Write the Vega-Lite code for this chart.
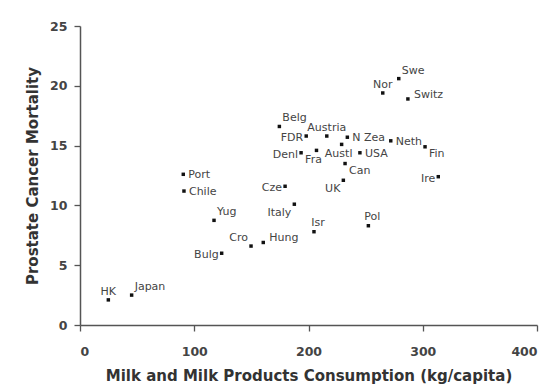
{
  "$schema": "https://vega.github.io/schema/vega-lite/v6.json",
  "autosize": "none",
  "width": 457,
  "height": 299,
  "padding": {"left": 80, "top": 26, "right": 12, "bottom": 65},
  "background": "white",
  "config": {
    "view": {"stroke": null},
    "font": "DejaVu Sans",
    "axis": {
      "grid": false,
      "domainColor": "#555",
      "domainWidth": 1.5,
      "tickColor": "#555",
      "tickWidth": 1.3,
      "tickSize": 6,
      "labelFont": "DejaVu Sans",
      "labelFontSize": 12.5,
      "labelFontWeight": "bold",
      "labelColor": "#444",
      "titleFont": "DejaVu Sans",
      "titleFontSize": 15,
      "titleFontWeight": "bold",
      "titleColor": "#333"
    },
    "text": {"font": "DejaVu Sans", "fontSize": 11, "color": "#444", "baseline": "middle"}
  },
  "data": {
    "values": [
      {"country": "Swe", "milk": 279, "mortality": 20.6},
      {"country": "Nor", "milk": 265, "mortality": 19.4},
      {"country": "Switz", "milk": 287, "mortality": 18.9},
      {"country": "Belg", "milk": 174.5, "mortality": 16.6},
      {"country": "FDR", "milk": 198, "mortality": 15.8},
      {"country": "Austria", "milk": 216, "mortality": 15.8},
      {"country": "N Zea", "milk": 234, "mortality": 15.7},
      {"country": "Austl", "milk": 229, "mortality": 15.1},
      {"country": "Neth", "milk": 272, "mortality": 15.4},
      {"country": "Fin", "milk": 302, "mortality": 14.9},
      {"country": "Denl", "milk": 193.5, "mortality": 14.4},
      {"country": "Fra", "milk": 207, "mortality": 14.6},
      {"country": "USA", "milk": 245, "mortality": 14.4},
      {"country": "Can", "milk": 232, "mortality": 13.5},
      {"country": "UK", "milk": 230.5, "mortality": 12.1},
      {"country": "Ire", "milk": 313.6, "mortality": 12.4},
      {"country": "Cze", "milk": 179.5, "mortality": 11.6},
      {"country": "Port", "milk": 90.4, "mortality": 12.6},
      {"country": "Chile", "milk": 91, "mortality": 11.2},
      {"country": "Italy", "milk": 187.6, "mortality": 10.1},
      {"country": "Yug", "milk": 117.3, "mortality": 8.75},
      {"country": "Isr", "milk": 204.8, "mortality": 7.8},
      {"country": "Pol", "milk": 252.4, "mortality": 8.3},
      {"country": "Hung", "milk": 160.4, "mortality": 6.9},
      {"country": "Cro", "milk": 149.7, "mortality": 6.6},
      {"country": "Bulg", "milk": 124, "mortality": 6.0},
      {"country": "HK", "milk": 24.8, "mortality": 2.1},
      {"country": "Japan", "milk": 45.2, "mortality": 2.5}
    ]
  },
  "encoding": {
    "x": {
      "field": "milk", "type": "quantitative",
      "scale": {"domain": [0, 400], "nice": false},
      "axis": {"values": [0, 100, 200, 300, 400], "labelPadding": 14, "titlePadding": 11,
               "title": "Milk and Milk Products Consumption (kg/capita)"}
    },
    "y": {
      "field": "mortality", "type": "quantitative",
      "scale": {"domain": [0, 25], "nice": false},
      "axis": {"values": [0, 5, 10, 15, 20, 25], "labelPadding": 7, "titlePadding": 9,
               "title": "Prostate Cancer Mortality"}
    }
  },
  "layer": [
    {"mark": {"type": "square", "filled": true, "color": "#111", "size": 12, "opacity": 1}},
    {
      "transform": [{"filter": {"field": "country", "oneOf": ["Neth", "Port", "Chile", "USA", "N Zea"]}}],
      "mark": {"type": "text", "align": "left", "dx": 5, "dy": 1},
      "encoding": {"text": {"field": "country"}}
    },
    {
      "transform": [{"filter": {"field": "country", "oneOf": ["Switz", "Hung"]}}],
      "mark": {"type": "text", "align": "left", "dx": 6, "dy": -4},
      "encoding": {"text": {"field": "country"}}
    },
    {
      "transform": [{"filter": {"field": "country", "oneOf": ["Swe", "Belg", "Yug", "Japan"]}}],
      "mark": {"type": "text", "align": "left", "dx": 3, "dy": -8},
      "encoding": {"text": {"field": "country"}}
    },
    {
      "transform": [{"filter": {"field": "country", "oneOf": ["Fin", "Can"]}}],
      "mark": {"type": "text", "align": "left", "dx": 4, "dy": 7},
      "encoding": {"text": {"field": "country"}}
    },
    {
      "transform": [{"filter": {"field": "country", "oneOf": ["FDR", "Denl", "Ire", "Cze", "Bulg"]}}],
      "mark": {"type": "text", "align": "right", "dx": -3, "dy": 2},
      "encoding": {"text": {"field": "country"}}
    },
    {
      "transform": [{"filter": {"field": "country", "oneOf": ["Nor", "HK", "Austria"]}}],
      "mark": {"type": "text", "align": "center", "dx": 0, "dy": -8},
      "encoding": {"text": {"field": "country"}}
    },
    {
      "transform": [{"filter": {"field": "country", "oneOf": ["Isr", "Pol"]}}],
      "mark": {"type": "text", "align": "center", "dx": 4, "dy": -9},
      "encoding": {"text": {"field": "country"}}
    },
    {
      "transform": [{"filter": {"field": "country", "oneOf": ["Cro"]}}],
      "mark": {"type": "text", "align": "right", "dx": -3, "dy": -8},
      "encoding": {"text": {"field": "country"}}
    },
    {
      "transform": [{"filter": {"field": "country", "oneOf": ["UK", "Italy"]}}],
      "mark": {"type": "text", "align": "right", "dx": -3, "dy": 9},
      "encoding": {"text": {"field": "country"}}
    },
    {
      "transform": [{"filter": {"field": "country", "oneOf": ["Austl", "Fra"]}}],
      "mark": {"type": "text", "align": "center", "dx": -3, "dy": 10},
      "encoding": {"text": {"field": "country"}}
    }
  ]
}
